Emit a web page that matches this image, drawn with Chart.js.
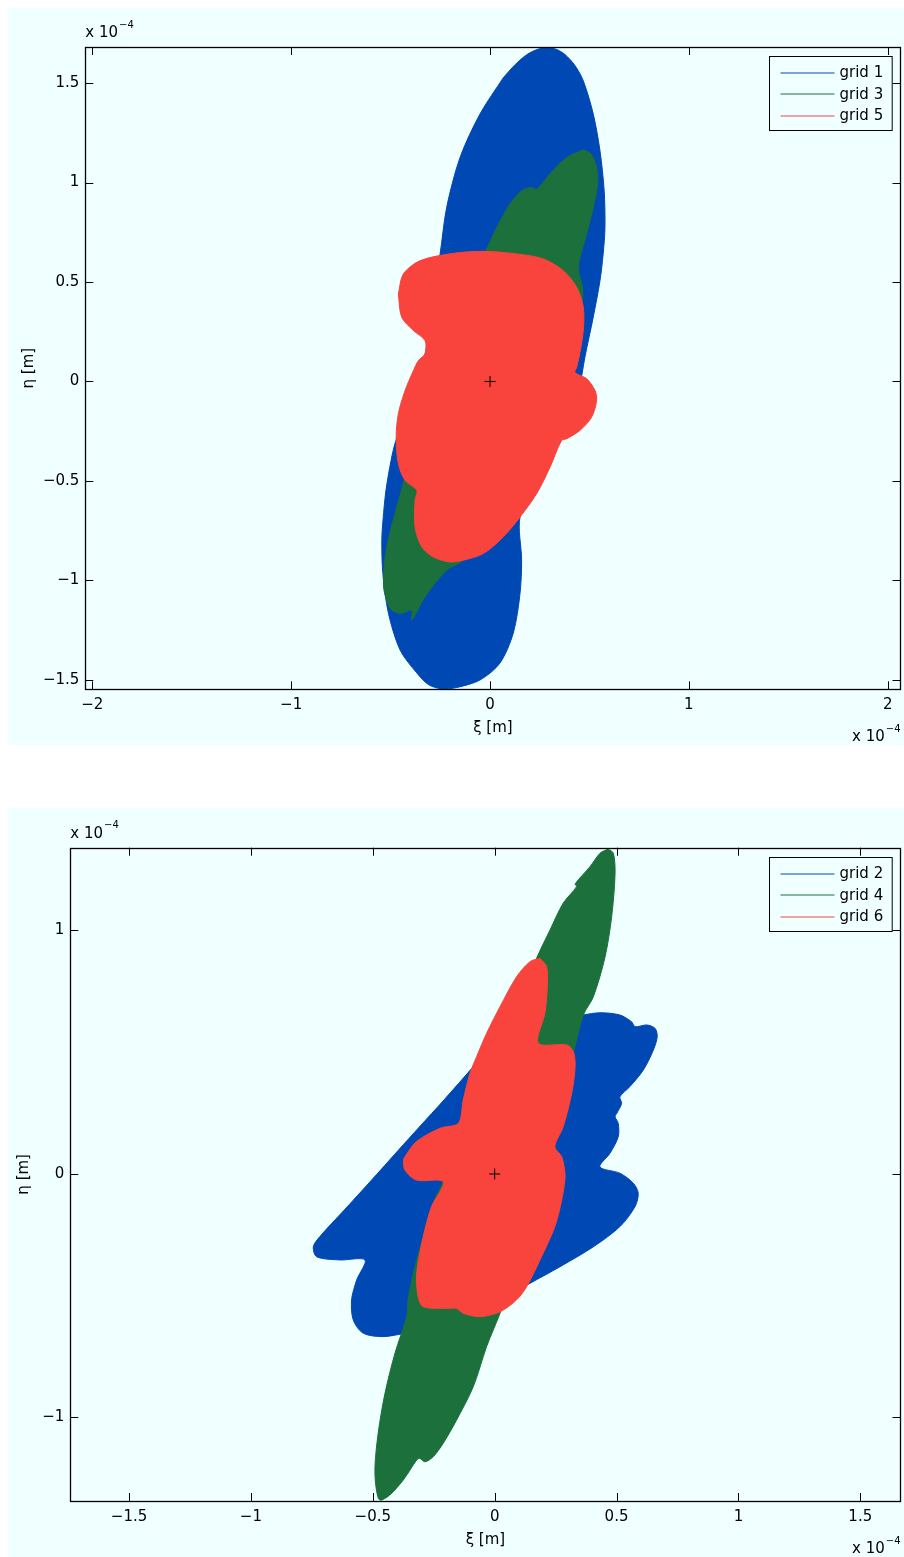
<!DOCTYPE html>
<html>
<head>
<meta charset="utf-8">
<script src="https://cdn.jsdelivr.net/npm/chart.js@4.4.1/dist/chart.umd.min.js"></script>
<style>
  html, body { margin: 0; padding: 0; background: #fff; }
  body { width: 904px; height: 1557px; position: relative; overflow: hidden; }
  .panel { position: absolute; left: 8px; width: 896px; background: #f0ffff; }
  #panelTop { top: 8px; height: 737px; }
  #panelBottom { top: 808px; height: 749px; }
  canvas { display: block; }
</style>
</head>
<body>
<div class="panel" id="panelTop"><canvas id="chartTop" width="896" height="737"></canvas></div>
<div class="panel" id="panelBottom"><canvas id="chartBottom" width="896" height="749"></canvas></div>
<script>
// Outlines of the regions, [xi, eta] in units of 1e-4 m

// top figure
const grid1 = [
    [0.067, 1.527], [0.126, 1.592], [0.186, 1.643], [0.241, 1.670], [0.286, 1.677],
    [0.332, 1.670], [0.377, 1.643], [0.427, 1.588], [0.469, 1.511], [0.519, 1.345],
    [0.553, 1.159], [0.574, 0.958], [0.578, 0.774], [0.569, 0.642], [0.553, 0.507],
    [0.519, 0.323], [0.477, 0.122], [0.447, -0.040], [0.392, -0.191], [0.317, -0.367],
    [0.236, -0.533], [0.151, -0.681], [0.159, -0.898], [0.151, -1.064], [0.117, -1.264],
    [0.050, -1.415], [-0.050, -1.500], [-0.167, -1.538], [-0.243, -1.545], [-0.310, -1.523],
    [-0.368, -1.465], [-0.452, -1.350], [-0.511, -1.164], [-0.539, -0.963], [-0.544, -0.798],
    [-0.538, -0.696], [-0.523, -0.545], [-0.497, -0.394], [-0.477, -0.309], [-0.427, -0.168],
    [-0.362, 0.008], [-0.317, 0.183], [-0.291, 0.410], [-0.251, 0.641], [-0.218, 0.875],
    [-0.151, 1.125], [-0.050, 1.345]
];
const grid3 = [
    [0.469, 1.164], [0.508, 1.144], [0.536, 1.075], [0.541, 0.993], [0.519, 0.875],
    [0.486, 0.743], [0.444, 0.573], [0.467, 0.457], [0.442, 0.256], [0.377, 0.005],
    [0.276, -0.246], [0.151, -0.522], [-0.134, -0.898], [-0.218, -0.948], [-0.327, -1.082],
    [-0.393, -1.199], [-0.393, -1.149], [-0.452, -1.166], [-0.503, -1.139], [-0.536, -1.024],
    [-0.519, -0.831], [-0.477, -0.662], [-0.419, -0.447], [-0.362, -0.196], [-0.291, 0.055],
    [-0.191, 0.316], [-0.101, 0.507], [-0.025, 0.649], [0.034, 0.774], [0.101, 0.893],
    [0.159, 0.958], [0.201, 0.975], [0.235, 0.967], [0.302, 1.044], [0.385, 1.125]
];
const grid5 = [
    [-0.461, 0.439], [-0.436, 0.540], [-0.352, 0.607], [-0.184, 0.644], [-0.034, 0.654],
    [0.134, 0.641], [0.268, 0.616], [0.368, 0.557], [0.436, 0.473], [0.469, 0.373],
    [0.469, 0.256], [0.452, 0.146], [0.436, 0.072], [0.427, 0.045], [0.486, 0.014],
    [0.528, -0.045], [0.536, -0.095], [0.511, -0.179], [0.452, -0.246], [0.385, -0.288],
    [0.360, -0.296], [0.302, -0.430], [0.235, -0.563], [0.151, -0.681], [0.067, -0.781],
    [-0.034, -0.865], [-0.134, -0.898], [-0.201, -0.907], [-0.285, -0.882], [-0.343, -0.831],
    [-0.377, -0.731], [-0.377, -0.597], [-0.368, -0.547], [-0.427, -0.497], [-0.461, -0.413],
    [-0.472, -0.279], [-0.461, -0.162], [-0.427, -0.045], [-0.385, 0.055], [-0.360, 0.105],
    [-0.327, 0.139], [-0.327, 0.206], [-0.385, 0.256], [-0.444, 0.323]
];

// bottom figure
const grid2 = [
    [-0.089, 0.439], [0.022, 0.501], [0.145, 0.571], [0.268, 0.632], [0.364, 0.653],
    [0.432, 0.662], [0.514, 0.653], [0.562, 0.625], [0.576, 0.605], [0.624, 0.612],
    [0.658, 0.598], [0.667, 0.564], [0.651, 0.509], [0.610, 0.427], [0.555, 0.359],
    [0.514, 0.317], [0.521, 0.290], [0.501, 0.249], [0.494, 0.235], [0.507, 0.208],
    [0.507, 0.153], [0.473, 0.085], [0.432, 0.029], [0.514, 0.003], [0.569, -0.038],
    [0.589, -0.079], [0.576, -0.134], [0.514, -0.216], [0.405, -0.299], [0.268, -0.381],
    [0.145, -0.449], [0.022, -0.517], [-0.142, -0.608], [-0.265, -0.653], [-0.361, -0.654],
    [-0.457, -0.668], [-0.539, -0.654], [-0.580, -0.600], [-0.587, -0.517], [-0.566, -0.435],
    [-0.532, -0.353], [-0.635, -0.353], [-0.730, -0.340], [-0.744, -0.299], [-0.717, -0.257],
    [-0.617, -0.148], [-0.542, -0.066], [-0.468, 0.016], [-0.394, 0.099], [-0.309, 0.193],
    [-0.208, 0.304]
];
const grid4 = [
    [0.466, 1.335], [0.487, 1.317], [0.494, 1.235], [0.480, 1.057], [0.453, 0.892],
    [0.405, 0.728], [0.364, 0.653], [0.323, 0.496], [0.280, 0.304], [0.227, 0.099],
    [0.165, -0.107], [0.104, -0.312], [0.055, -0.476], [0.022, -0.572], [-0.033, -0.709],
    [-0.088, -0.874], [-0.156, -1.010], [-0.211, -1.106], [-0.252, -1.161], [-0.286, -1.182],
    [-0.307, -1.168], [-0.320, -1.175], [-0.375, -1.257], [-0.430, -1.318], [-0.471, -1.339],
    [-0.487, -1.284], [-0.491, -1.202], [-0.478, -1.065], [-0.450, -0.901], [-0.409, -0.736],
    [-0.361, -0.586], [-0.355, -0.517], [-0.334, -0.408], [-0.293, -0.257], [-0.252, -0.120],
    [-0.211, -0.032], [-0.142, 0.119], [-0.060, 0.304], [0.022, 0.509], [0.104, 0.715],
    [0.172, 0.886], [0.227, 1.002], [0.281, 1.112], [0.336, 1.180], [0.330, 1.191],
    [0.391, 1.262], [0.432, 1.317]
];
const grid6 = [
    [0.186, 0.886], [0.213, 0.851], [0.216, 0.769], [0.206, 0.660], [0.179, 0.537],
    [0.295, 0.530], [0.323, 0.502], [0.330, 0.441], [0.316, 0.331], [0.281, 0.194],
    [0.247, 0.112], [0.275, 0.071], [0.288, 0.008], [0.288, -0.025], [0.275, -0.107],
    [0.247, -0.216], [0.186, -0.353], [0.131, -0.463], [0.090, -0.517], [0.022, -0.566],
    [-0.060, -0.586], [-0.129, -0.572], [-0.156, -0.552], [-0.197, -0.552], [-0.293, -0.545],
    [-0.314, -0.504], [-0.320, -0.408], [-0.293, -0.257], [-0.259, -0.134], [-0.211, -0.032],
    [-0.321, -0.025], [-0.368, 0.016], [-0.374, 0.057], [-0.368, 0.071], [-0.321, 0.133],
    [-0.224, 0.188], [-0.149, 0.208], [-0.129, 0.304], [-0.101, 0.414], [-0.074, 0.482],
    [-0.033, 0.578], [0.022, 0.687], [0.090, 0.810], [0.145, 0.872]
];

const origin = [[0, 0]];

// axis limits and ticks
const topXRange = [-2.035, 2.064];
const topYRange = [-1.547, 1.681];
const topXTicks = [-2, -1, 0, 1, 2];
const topYTicks = [-1.5, -1, -0.5, 0, 0.5, 1, 1.5];

const bottomXRange = [-1.741, 1.665];
const bottomYRange = [-1.343, 1.340];
const bottomXTicks = [-1.5, -1, -0.5, 0, 0.5, 1, 1.5];
const bottomYTicks = [-1, 0, 1];

const BLUE = '#0048b4';
const GREEN = '#1c703c';
const RED = '#f8443c';
const FONT = '"DejaVu Sans", Verdana, sans-serif';

function fmt(v) {
    return v < 0 ? '\u2212' + String(-v) : String(v);
}

function region(label, pts, color, order) {
    return {
        label: label,
        data: pts.concat([pts[0]]).map(p => ({ x: p[0], y: p[1] })),
        showLine: true,
        fill: 'shape',
        backgroundColor: color,
        borderColor: color,
        borderWidth: 1,
        pointRadius: 0,
        pointHoverRadius: 0,
        tension: 0.3,
        order: order
    };
}

function marker() {
    return {
        data: origin.map(p => ({ x: p[0], y: p[1] })),
        pointStyle: 'cross',
        pointRadius: 5.5,
        borderColor: '#000',
        backgroundColor: '#000',
        borderWidth: 1,
        showLine: false,
        order: 0
    };
}

// MATLAB style box, inward ticks, legend and exponent labels
const matlabAxes = {
    id: 'matlabAxes',
    afterDraw(chart) {
        const { ctx, chartArea: a, scales: { x, y } } = chart;
        ctx.save();

        ctx.strokeStyle = '#000';
        ctx.lineWidth = 1;
        ctx.beginPath();
        x.ticks.forEach(t => {
            const px = Math.round(x.getPixelForValue(t.value)) + 0.5;
            ctx.moveTo(px, a.bottom); ctx.lineTo(px, a.bottom - 8);
            ctx.moveTo(px, a.top); ctx.lineTo(px, a.top + 8);
        });
        y.ticks.forEach(t => {
            const py = Math.round(y.getPixelForValue(t.value)) + 0.5;
            ctx.moveTo(a.left, py); ctx.lineTo(a.left + 8, py);
            ctx.moveTo(a.right, py); ctx.lineTo(a.right - 8, py);
        });
        ctx.stroke();
        ctx.lineWidth = 1.3;
        ctx.strokeRect(Math.round(a.left) + 0.5, Math.round(a.top) + 0.5,
            Math.round(a.right - a.left), Math.round(a.bottom - a.top));

        // legend
        const items = chart.data.datasets.filter(d => d.label);
        ctx.font = '15px ' + FONT;
        const textW = Math.max(...items.map(d => ctx.measureText(d.label).width));
        const boxW = 70 + textW + 9;
        const boxH = 74;
        const bx = Math.round(a.right - 9 - boxW) + 0.5;
        const by = Math.round(a.top + 9) + 0.5;
        ctx.fillStyle = '#f0ffff';
        ctx.fillRect(bx, by, boxW, boxH);
        ctx.lineWidth = 1;
        ctx.strokeStyle = '#000';
        ctx.strokeRect(bx, by, boxW, boxH);
        const rows = [16, 37.5, 59];
        ctx.textBaseline = 'middle';
        ctx.textAlign = 'left';
        items.forEach((d, i) => {
            const ry = by + rows[i];
            ctx.strokeStyle = d.borderColor;
            ctx.beginPath();
            ctx.moveTo(bx + 11, Math.round(ry));
            ctx.lineTo(bx + 65, Math.round(ry));
            ctx.stroke();
            ctx.fillStyle = '#000';
            ctx.fillText(d.label, bx + 70, ry + 1);
        });

        // exponent labels
        const expo = (xRef, yMid, alignRight) => {
            ctx.font = '15px ' + FONT;
            const base = 'x 10';
            const bw = ctx.measureText(base).width;
            ctx.font = '10px ' + FONT;
            const sup = '\u22124';
            const sw = ctx.measureText(sup).width;
            const x0 = alignRight ? xRef - bw - sw - 1 : xRef;
            ctx.fillStyle = '#000';
            ctx.textBaseline = 'middle';
            ctx.textAlign = 'left';
            ctx.font = '15px ' + FONT;
            ctx.fillText(base, x0, yMid);
            ctx.font = '10px ' + FONT;
            ctx.fillText(sup, x0 + bw + 1, yMid - 8);
        };
        expo(a.left, a.top - 14, false);
        expo(a.right, a.bottom + 48, true);

        ctx.restore();
    }
};

function scales(xr, yr, xt, yt, yWidth, xHeight, yTitlePad) {
    const font = { family: FONT, size: 15 };
    return {
        x: {
            type: 'linear',
            min: xr[0],
            max: xr[1],
            afterBuildTicks: s => { s.ticks = xt.map(v => ({ value: v })); },
            afterFit: s => { s.height = xHeight; },
            grid: { display: false, drawTicks: false },
            border: { display: false },
            ticks: { callback: fmt, color: '#000', font: font, padding: 7, maxRotation: 0, autoSkip: false },
            title: { display: true, text: '\u03be [m]', color: '#000', font: font, padding: { top: 0, bottom: 8 } }
        },
        y: {
            type: 'linear',
            min: yr[0],
            max: yr[1],
            afterBuildTicks: s => { s.ticks = yt.map(v => ({ value: v })); },
            afterFit: s => { s.width = yWidth; },
            grid: { display: false, drawTicks: false },
            border: { display: false },
            ticks: { callback: fmt, color: '#000', font: font, padding: 6, autoSkip: false },
            title: { display: true, text: '\u03b7 [m]', color: '#000', font: font, padding: { top: yTitlePad, bottom: 0 } }
        }
    };
}

function makeChart(id, datasets, sc, padTop) {
    return new Chart(document.getElementById(id), {
        type: 'scatter',
        data: { datasets: datasets },
        options: {
            responsive: false,
            animation: false,
            events: [],
            layout: { autoPadding: false, padding: { top: padTop, right: 3.5, left: 0, bottom: 0 } },
            plugins: {
                legend: { display: false },
                tooltip: { enabled: false }
            },
            scales: sc
        },
        plugins: [matlabAxes]
    });
}

makeChart('chartTop', [
    region('grid 1', grid1, BLUE, 3),
    region('grid 3', grid3, GREEN, 2),
    region('grid 5', grid5, RED, 1),
    marker()
], scales(topXRange, topYRange, topXTicks, topYTicks, 77.3, 55.7, 12.4), 39);

makeChart('chartBottom', [
    region('grid 2', grid2, BLUE, 3),
    region('grid 4', grid4, GREEN, 2),
    region('grid 6', grid6, RED, 1),
    marker()
], scales(bottomXRange, bottomYRange, bottomXTicks, bottomYTicks, 62.3, 56, 7.4), 39.7);
</script>
</body>
</html>
